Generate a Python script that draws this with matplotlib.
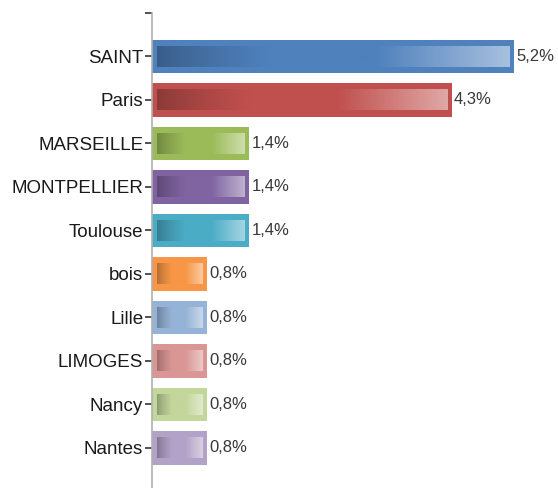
import numpy as np
import matplotlib
matplotlib.use("Agg")
import matplotlib.pyplot as plt
from matplotlib.colors import to_rgb

cities = ["SAINT", "Paris", "MARSEILLE", "MONTPELLIER", "Toulouse",
          "bois", "Lille", "LIMOGES", "Nancy", "Nantes"]
shares = [5.2, 4.3, 1.4, 1.4, 1.4, 0.8, 0.8, 0.8, 0.8, 0.8]
labels = ["5,2%", "4,3%", "1,4%", "1,4%", "1,4%",
          "0,8%", "0,8%", "0,8%", "0,8%", "0,8%"]
colors = ["#4f81bd", "#c0504d", "#9bbb59", "#8064a2", "#4bacc6",
          "#f79646", "#95b3d7", "#d99694", "#c3d69b", "#b3a2c7"]

plt.rcParams["font.family"] = ["Liberation Sans", "DejaVu Sans"]

W, H = 558, 488
fig = plt.figure(figsize=(W / 100, H / 100), dpi=100)

# axis geometry in pixels
x0, top = 151.5, 13
px_per_unit = 69.8
row_px = 43.5
ax = fig.add_axes([x0 / W, 0, 1 - x0 / W, 1 - top / H])
xmax = (W - x0) / px_per_unit
ymax = -1 + (H - top) / row_px

bar_h = 0.77
inset_x = 5 / px_per_unit
inset_y = 6.5 / row_px


def gradient(color, n=400):
    base = np.array(to_rgb(color))
    dark = base * 0.72
    light = base + (1 - base) * 0.5
    t = np.linspace(0, 1, n)
    out = np.empty((n, 3))
    for i, v in enumerate(t):
        if v < 0.32:
            f = (v / 0.32) ** 0.8
            out[i] = dark + (base - dark) * f
        elif v < 0.62:
            out[i] = base
        else:
            f = (v - 0.62) / 0.38
            out[i] = base + (light - base) * f
    return out[np.newaxis, :, :]


y = np.arange(len(cities))
ax.barh(y, shares, height=bar_h, color=colors, zorder=2)
for yi, val, col, lab in zip(y, shares, colors, labels):
    ax.imshow(gradient(col), aspect="auto", zorder=3, interpolation="bilinear",
              extent=[inset_x, val - inset_x,
                      yi + bar_h / 2 - inset_y, yi - bar_h / 2 + inset_y])
    ax.text(val + 0.03, yi, lab, va="center", ha="left",
            fontsize=12, color="#383838", zorder=4)

ax.set_xlim(0, xmax)
ax.set_ylim(ymax, -1)
ax.set_yticks([-1] + list(y))
ax.set_yticklabels([""] + cities, fontsize=13.5, color="#1a1a1a")
ax.tick_params(axis="y", length=5, width=1.2, color="#333333", pad=1)
ax.set_xticks([])
for side in ["top", "right", "bottom"]:
    ax.spines[side].set_visible(False)
ax.spines["left"].set_color("#b0b0b0")
ax.spines["left"].set_linewidth(1.2)

fig.savefig("out.png", dpi=100)
